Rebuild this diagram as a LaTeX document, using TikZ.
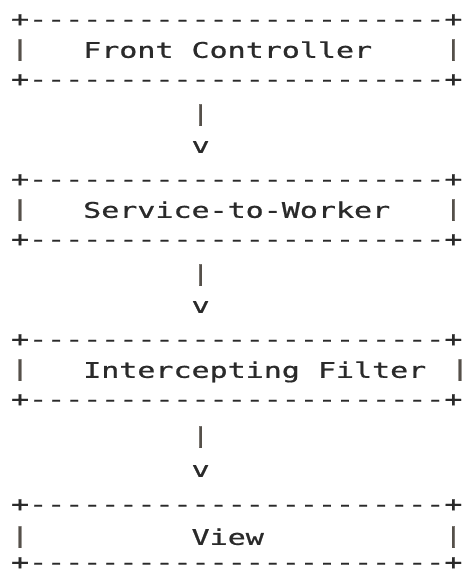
\documentclass[tikz,border=0pt]{standalone}
\usepackage{fontspec}
\usepackage{graphicx}
\setmonofont{DejaVu Sans Mono}[FakeBold=0.7]
\definecolor{ink}{HTML}{2A2A2A}
\definecolor{barink}{HTML}{55504A}
\newcommand{\sx}{1.395}
\newcommand{\A}[1]{\scalebox{\sx}[1]{#1}}
\tikzset{
  asc/.style={inner sep=0pt, outer sep=0pt, text=ink,
    font=\ttfamily\fontsize{21.5}{21.5}\selectfont},
  rule/.style={asc, anchor=base west, yshift=-6.6pt},
  label/.style={asc, anchor=base west},
  bar/.style={asc, anchor=center, text=barink},
  tip/.style={asc, anchor=base, yshift=-5.9pt}
}
\newcommand{\rl}{\A{+-----------------------+}}
\begin{document}
\begin{tikzpicture}[x=1pt,y=-1pt]
\useasboundingbox (0,0) rectangle (469,574);
\fill[white] (0,0) rectangle (469,574);
% Box 1: Front Controller
\node[rule]  (fcTop) at (11,20) {\rl};
\node[bar]   (fcL)   at (20,50) {\A{|}};
\node[label] (fc)    at (83.2,57.8) {\A{Front Controller}};
\node[bar]   (fcR)   at (453.4,50) {\A{|}};
\node[rule]  (fcBot) at (11,80) {\rl};
% connector 1
\node[bar]   (c1bar) at (200.6,115) {\A{|}};
\node[tip]   (c1v)   at (200.6,147) {\A{v}};
% Box 2: Service-to-Worker
\node[rule]  (swTop) at (11,180) {\rl};
\node[bar]   (swL)   at (20,210) {\A{|}};
\node[label] (sw)    at (83.2,217.8) {\A{Service-to-Worker}};
\node[bar]   (swR)   at (453.4,210) {\A{|}};
\node[rule]  (swBot) at (11,240) {\rl};
% connector 2
\node[bar]   (c2bar) at (200.6,275) {\A{|}};
\node[tip]   (c2v)   at (200.6,307) {\A{v}};
% Box 3: Intercepting Filter
\node[rule]  (ifTop) at (11,340) {\rl};
\node[bar]   (ifL)   at (20,370) {\A{|}};
\node[label] (if)    at (83.2,377.8) {\A{Intercepting Filter}};
\node[bar]   (ifR)   at (460,370) {\A{|}};
\node[rule]  (ifBot) at (11,400) {\rl};
% connector 3
\node[bar]   (c3bar) at (200.6,437) {\A{|}};
\node[tip]   (c3v)   at (200.6,471) {\A{v}};
% Box 4: View
\node[rule]  (vTop)  at (11,505) {\rl};
\node[bar]   (vL)    at (20,537) {\A{|}};
\node[label] (view)  at (191.6,544.8) {\A{View}};
\node[bar]   (vR)    at (453.4,537) {\A{|}};
\node[rule]  (vBot)  at (11,563) {\rl};
\end{tikzpicture}
\end{document}
